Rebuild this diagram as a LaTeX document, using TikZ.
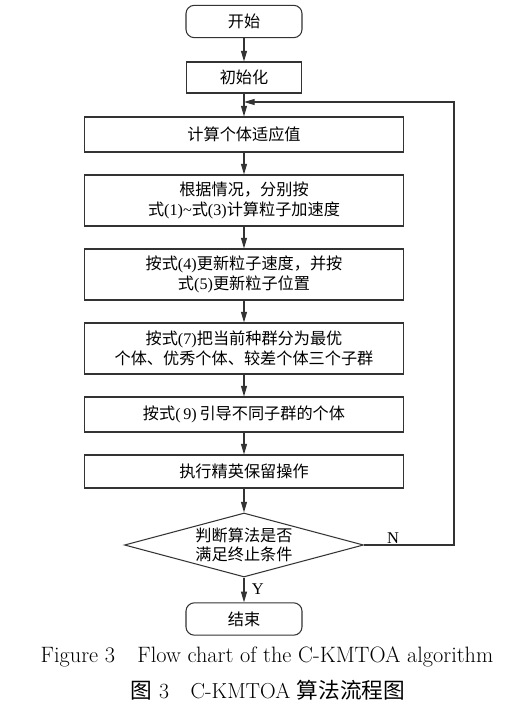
\documentclass[tikz,border=0pt]{standalone}
\usepackage{fontspec}
\usetikzlibrary{arrows.meta,shapes.geometric}
\newfontfamily\cjk{Noto Sans CJK SC}
\newfontfamily\tmfont{Liberation Serif}
\newcommand{\eqn}[1]{{\tmfont(#1)}}

\begin{document}
\begin{tikzpicture}[x=0.03cm, y=-0.03cm]
  \tikzset{%
    box/.style={draw=black!80, line width=0.9pt, align=center,%
      inner sep=0pt, font=\cjk\fontsize{13.8pt}{16.6pt}\selectfont},%
    proc/.style={box, minimum width=9.57cm},%
    term/.style={box, rounded corners=0.25cm, minimum width=3.48cm, minimum height=0.97cm},%
    test/.style={box, diamond, aspect=3.7, minimum width=7.17cm, minimum height=1.92cm},%
    flow/.style={draw=black!80, line width=0.9pt, -{Triangle[length=3.2mm,width=1.8mm]}},%
    lbl/.style={font=\tmfont\fontsize{14pt}{16pt}\selectfont}%
  }%
  \useasboundingbox (0,0) rectangle (520,704);%

  %
  % Boxes
  %
  \node[term] (start) at (244,21.5) {开始};%
  \node[box, minimum width=3.45cm, minimum height=0.93cm] (init) at (244,77.5) {初始化};%

  \foreach \nm/\yy/\hh/\txt in {%
      fit/134.5/1.05/{计算个体适应值},%
      accel/200.5/1.53/{根据情况，分别按\\式\eqn{1}{\tmfont\textasciitilde}式\eqn{3}计算粒子加速度},%
      update/274.5/1.53/{按式\eqn{4}更新粒子速度，并按\\式\eqn{5}更新粒子位置},%
      group/348.5/1.53/{按式\eqn{7}把当前种群分为最优\\个体、优秀个体、较差个体三个子群},%
      guide/414.5/1.05/{按式\eqn{\,9}\,引导不同子群的个体},%
      elite/471.5/0.99/{执行精英保留操作}} {%
      \node[proc, minimum height=\hh cm] (\nm) at (244,\yy) {\txt};%
    }%

  % Decision and end
  \node[test] (judge) at (244,545) {判断算法是否\\满足终止条件};%
  \node[term] (end) at (244,619) {结束};%

  %
  % Connectors
  %
  \foreach \a/\b in {start/init, init/fit, fit/accel, accel/update,%
      update/group, group/guide, guide/elite, elite/judge} {%
      \draw[flow] (\a) -- (\b);%
    }%
  \draw[flow] (judge) -- (end) node[lbl, pos=0.45, right=3pt] {Y};%

  % Loop back
  \coordinate (loop in) at (244,102);%
  \coordinate (loop corner) at (454,102);%
  \draw[flow] (judge.east) -| (loop corner) -- (loop in);%
  \node[lbl] (no) at (393,538) {N};%

  %
  % Caption
  %
  \node[font=\fontsize{19pt}{22pt}\selectfont] (cap en) at (267,657)%
    {Figure 3\quad Flow chart of the C-KMTOA algorithm};%
  \node[font=\fontsize{18.5pt}{22pt}\selectfont] (cap zh) at (268,690)%
    {{\cjk 图} 3\quad C-KMTOA {\cjk 算法流程图}};%
\end{tikzpicture}
\end{document}
